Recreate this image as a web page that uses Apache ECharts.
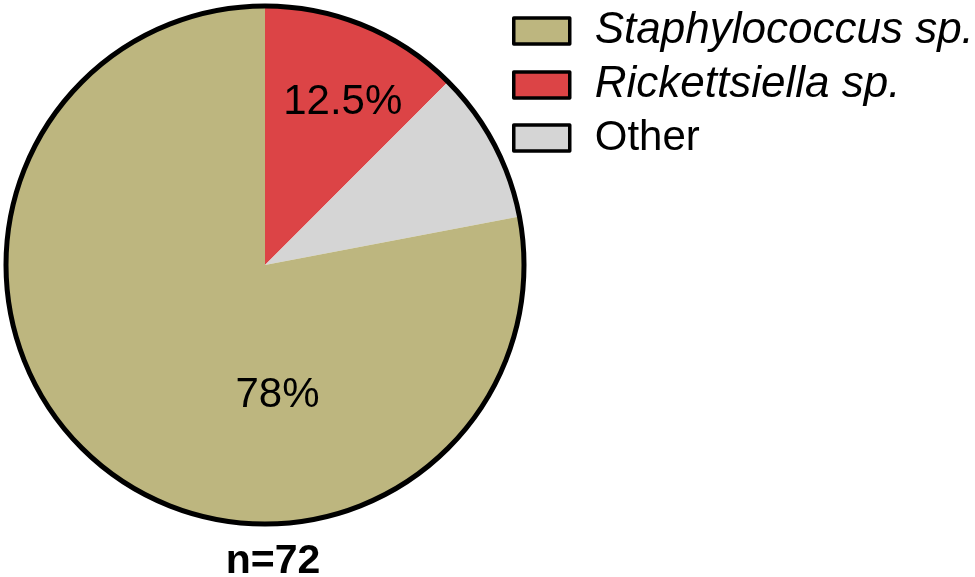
<html>
<head>
    <meta charset="utf-8">
    <title>ECharts</title>
    <script src="https://cdn.jsdelivr.net/npm/echarts@6/dist/echarts.min.js"></script>
</head>
<body style="margin:0;background:#fff;">
<div id="main" style="width: 975px;height:577px;"></div>
<script type="text/javascript">
    // data, clockwise from 12 o'clock
    var categories = ['Rickettsiella sp.', 'Other', 'Staphylococcus sp.'];
    var shares = [12.5, 9.5, 78];
    var sliceLabels = ['12.5%', '', '78%'];
    var legendOrder = ['Staphylococcus sp.', 'Rickettsiella sp.', 'Other'];
    var italicNames = ['Staphylococcus sp.', 'Rickettsiella sp.'];
    var sampleSize = 'n=72';

    var colors = ['#DC4446', '#D5D5D5', '#BDB67F'];
    // nudge the inside labels to where the original has them
    var labelOffsets = [[27, -40], [0, 0], [97, 28]];

    var myChart = echarts.init(document.getElementById('main'));

    var pieData = [];
    for (var i = 0; i < categories.length; i++) {
        pieData.push({
            name: categories[i],
            value: shares[i],
            itemStyle: { color: colors[i] },
            label: {
                show: sliceLabels[i] !== '',
                formatter: sliceLabels[i],
                offset: labelOffsets[i]
            }
        });
    }

    var option = {
        animation: false,
        title: {
            text: sampleSize,
            left: 268,
            top: 536,
            textAlign: 'center',
            textStyle: {
                fontFamily: 'Liberation Sans',
                fontSize: 41,
                fontWeight: 'bold',
                color: '#000'
            }
        },
        legend: {
            data: legendOrder,
            orient: 'vertical',
            left: 507,
            top: 4,
            icon: 'rect',
            itemWidth: 56,
            itemHeight: 26,
            itemGap: 10,
            itemStyle: { borderColor: '#000', borderWidth: 3.5 },
            formatter: function (name) {
                return italicNames.indexOf(name) >= 0 ? '{i|' + name + '}' : name;
            },
            textStyle: {
                fontFamily: 'Liberation Sans',
                fontSize: 42,
                lineHeight: 42,
                color: '#000',
                padding: [0, 0, 0, 20],
                rich: {
                    i: {
                        fontFamily: 'Liberation Sans',
                        fontSize: 44,
                        lineHeight: 42,
                        fontStyle: 'italic',
                        color: '#000'
                    }
                }
            }
        },
        series: [{
            name: 'share',
            type: 'pie',
            center: [265, 265],
            radius: [0, 259],
            startAngle: 90,
            clockwise: true,
            avoidLabelOverlap: false,
            itemStyle: { borderWidth: 0 },
            label: {
                position: 'inside',
                fontFamily: 'Liberation Sans',
                fontSize: 42,
                color: '#000'
            },
            labelLine: { show: false },
            emphasis: { disabled: true },
            data: pieData
        }, {
            // outline round the whole pie
            name: 'outline',
            type: 'pie',
            center: [265, 265],
            radius: [0, 259],
            silent: true,
            z: 3,
            label: { show: false },
            labelLine: { show: false },
            itemStyle: { color: 'rgba(0,0,0,0)', borderColor: '#000', borderWidth: 5 },
            data: [{ name: 'outline', value: 1 }]
        }]
    };

    myChart.setOption(option);
</script>
</body>
</html>
